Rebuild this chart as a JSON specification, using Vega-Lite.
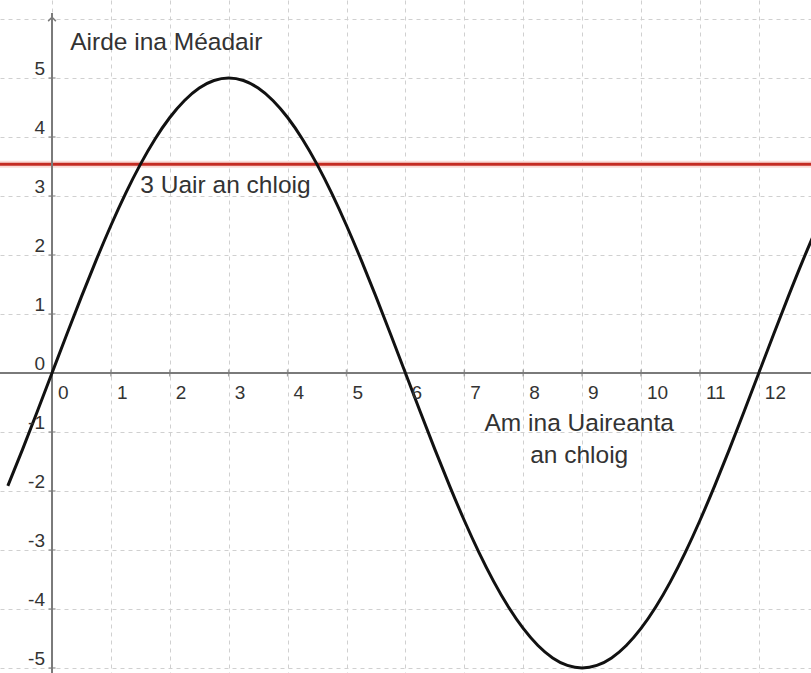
{
  "$schema": "https://vega.github.io/schema/vega-lite/v6.json",
  "width": 811,
  "height": 673,
  "padding": 0,
  "autosize": {"type": "none"},
  "background": "white",
  "config": {
    "view": {"stroke": null},
    "axis": {
      "labels": false,
      "ticks": false,
      "domain": false,
      "title": null,
      "grid": true,
      "gridColor": "#d0d0d0",
      "gridDash": [4, 4],
      "gridWidth": 1
    },
    "text": {"font": "Liberation Sans", "color": "#333333"}
  },
  "datasets": {
    "curve": [
      {"t": -0.75, "h": -1.913}, {"t": -0.5, "h": -1.294}, {"t": -0.25, "h": -0.653},
      {"t": 0, "h": 0}, {"t": 0.25, "h": 0.653}, {"t": 0.5, "h": 1.294}, {"t": 0.75, "h": 1.913},
      {"t": 1, "h": 2.5}, {"t": 1.25, "h": 3.044}, {"t": 1.5, "h": 3.536}, {"t": 1.75, "h": 3.967},
      {"t": 2, "h": 4.33}, {"t": 2.25, "h": 4.619}, {"t": 2.5, "h": 4.83}, {"t": 2.75, "h": 4.957},
      {"t": 3, "h": 5}, {"t": 3.25, "h": 4.957}, {"t": 3.5, "h": 4.83}, {"t": 3.75, "h": 4.619},
      {"t": 4, "h": 4.33}, {"t": 4.25, "h": 3.967}, {"t": 4.5, "h": 3.536}, {"t": 4.75, "h": 3.044},
      {"t": 5, "h": 2.5}, {"t": 5.25, "h": 1.913}, {"t": 5.5, "h": 1.294}, {"t": 5.75, "h": 0.653},
      {"t": 6, "h": 0}, {"t": 6.25, "h": -0.653}, {"t": 6.5, "h": -1.294}, {"t": 6.75, "h": -1.913},
      {"t": 7, "h": -2.5}, {"t": 7.25, "h": -3.044}, {"t": 7.5, "h": -3.536}, {"t": 7.75, "h": -3.967},
      {"t": 8, "h": -4.33}, {"t": 8.25, "h": -4.619}, {"t": 8.5, "h": -4.83}, {"t": 8.75, "h": -4.957},
      {"t": 9, "h": -5}, {"t": 9.25, "h": -4.957}, {"t": 9.5, "h": -4.83}, {"t": 9.75, "h": -4.619},
      {"t": 10, "h": -4.33}, {"t": 10.25, "h": -3.967}, {"t": 10.5, "h": -3.536}, {"t": 10.75, "h": -3.044},
      {"t": 11, "h": -2.5}, {"t": 11.25, "h": -1.913}, {"t": 11.5, "h": -1.294}, {"t": 11.75, "h": -0.653},
      {"t": 12, "h": 0}, {"t": 12.25, "h": 0.653}, {"t": 12.5, "h": 1.294}, {"t": 12.75, "h": 1.913},
      {"t": 13, "h": 2.5}
    ],
    "level": [{"h": 3.536}],
    "xticks": [
      {"t": 0, "h": 0, "label": "0"}, {"t": 1, "h": 0, "label": "1"}, {"t": 2, "h": 0, "label": "2"},
      {"t": 3, "h": 0, "label": "3"}, {"t": 4, "h": 0, "label": "4"}, {"t": 5, "h": 0, "label": "5"},
      {"t": 6, "h": 0, "label": "6"}, {"t": 7, "h": 0, "label": "7"}, {"t": 8, "h": 0, "label": "8"},
      {"t": 9, "h": 0, "label": "9"}, {"t": 10, "h": 0, "label": "10"}, {"t": 11, "h": 0, "label": "11"},
      {"t": 12, "h": 0, "label": "12"}
    ],
    "yticks": [
      {"t": 0, "h": -5, "label": "-5"}, {"t": 0, "h": -4, "label": "-4"}, {"t": 0, "h": -3, "label": "-3"},
      {"t": 0, "h": -2, "label": "-2"}, {"t": 0, "h": -1, "label": "-1"}, {"t": 0, "h": 0, "label": "0"},
      {"t": 0, "h": 1, "label": "1"}, {"t": 0, "h": 2, "label": "2"}, {"t": 0, "h": 3, "label": "3"},
      {"t": 0, "h": 4, "label": "4"}, {"t": 0, "h": 5, "label": "5"}
    ],
    "notesLeft": [
      {"t": 0.31, "h": 5.47, "text": "Airde ina Méadair"},
      {"t": 1.5, "h": 3.05, "text": "3 Uair an chloig"}
    ],
    "notesCenter": [
      {"t": 8.95, "h": -0.98, "text": "Am ina Uaireanta"},
      {"t": 8.95, "h": -1.52, "text": "an chloig"}
    ]
  },
  "layer": [
    {
      "data": {"name": "level"},
      "mark": {"type": "rule", "color": "#fadcd8", "strokeWidth": 7},
      "encoding": {"y": {"field": "h", "type": "quantitative"}}
    },
    {
      "data": {"name": "level"},
      "mark": {"type": "rule", "color": "#c42b22", "strokeWidth": 3},
      "encoding": {"y": {"field": "h", "type": "quantitative"}}
    },
    {
      "data": {"name": "level"},
      "mark": {"type": "rule", "color": "#7a7a7a", "strokeWidth": 2},
      "encoding": {
        "x": {"datum": 0, "type": "quantitative"},
        "y": {"datum": -5.085, "type": "quantitative"},
        "y2": {"datum": 6.1}
      }
    },
    {
      "data": {"name": "level"},
      "mark": {"type": "rule", "color": "#7a7a7a", "strokeWidth": 2},
      "encoding": {"y": {"datum": 0, "type": "quantitative"}}
    },
    {
      "data": {"name": "level"},
      "mark": {
        "type": "point",
        "shape": "M-1,1L0,0L1,1",
        "filled": false,
        "stroke": "#7a7a7a",
        "strokeWidth": 1.5,
        "size": 60,
        "opacity": 1
      },
      "encoding": {
        "x": {"datum": 0, "type": "quantitative"},
        "y": {"datum": 6.03, "type": "quantitative"}
      }
    },
    {
      "data": {"name": "xticks"},
      "mark": {"type": "tick", "orient": "vertical", "size": 7, "thickness": 1.5, "color": "#7a7a7a"},
      "encoding": {
        "x": {"field": "t", "type": "quantitative"},
        "y": {"field": "h", "type": "quantitative"}
      }
    },
    {
      "data": {"name": "yticks"},
      "mark": {"type": "tick", "orient": "horizontal", "size": 7, "thickness": 1.5, "color": "#7a7a7a"},
      "encoding": {
        "x": {"field": "t", "type": "quantitative"},
        "y": {"field": "h", "type": "quantitative"}
      }
    },
    {
      "data": {"name": "curve"},
      "mark": {"type": "line", "color": "#111111", "strokeWidth": 3, "interpolate": "natural", "clip": true},
      "encoding": {
        "x": {
          "field": "t",
          "type": "quantitative",
          "scale": {"domain": [-0.883, 12.886], "nice": false, "zero": false},
          "axis": {"values": [0, 1, 2, 3, 4, 5, 6, 7, 8, 9, 10, 11, 12]}
        },
        "y": {
          "field": "h",
          "type": "quantitative",
          "scale": {"domain": [-5.085, 6.322], "nice": false, "zero": false},
          "axis": {"values": [-5, -4, -3, -2, -1, 0, 1, 2, 3, 4, 5, 6]}
        }
      }
    },
    {
      "data": {"name": "xticks"},
      "mark": {"type": "text", "align": "left", "baseline": "alphabetic", "dx": 6, "dy": 26, "fontSize": 19},
      "encoding": {
        "x": {"field": "t", "type": "quantitative"},
        "y": {"field": "h", "type": "quantitative"},
        "text": {"field": "label"}
      }
    },
    {
      "data": {"name": "yticks"},
      "mark": {"type": "text", "align": "right", "baseline": "alphabetic", "dx": -7, "dy": -3, "fontSize": 19},
      "encoding": {
        "x": {"field": "t", "type": "quantitative"},
        "y": {"field": "h", "type": "quantitative"},
        "text": {"field": "label"}
      }
    },
    {
      "data": {"name": "notesLeft"},
      "mark": {"type": "text", "align": "left", "baseline": "alphabetic", "fontSize": 24.5},
      "encoding": {
        "x": {"field": "t", "type": "quantitative"},
        "y": {"field": "h", "type": "quantitative"},
        "text": {"field": "text"}
      }
    },
    {
      "data": {"name": "notesCenter"},
      "mark": {"type": "text", "align": "center", "baseline": "alphabetic", "fontSize": 24.5},
      "encoding": {
        "x": {"field": "t", "type": "quantitative"},
        "y": {"field": "h", "type": "quantitative"},
        "text": {"field": "text"}
      }
    }
  ]
}
